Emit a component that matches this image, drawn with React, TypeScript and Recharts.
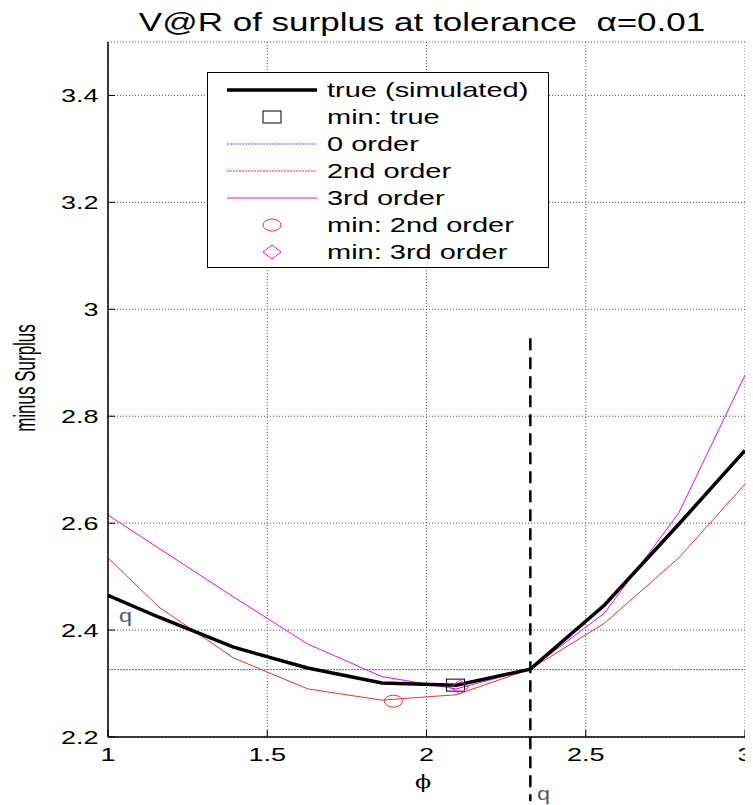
import React from "react";
import {
  ComposedChart, Line, Scatter, XAxis, YAxis, CartesianGrid, ReferenceLine, Legend,
} from "recharts";

// phi grid (q +/- k*0.233, plus the ends)
const PHI = [1, 1.16, 1.394, 1.627, 1.86, 2.093, 2.326, 2.559, 2.792, 3];
const TRUE_SIM = [2.465, 2.424, 2.368, 2.329, 2.301, 2.297, 2.327, 2.447, 2.598, 2.736];
const ORDER0 = [2.326, 2.326, 2.326, 2.326, 2.326, 2.326, 2.326, 2.326, 2.326, 2.326];
const ORDER2 = [2.535, 2.443, 2.348, 2.29, 2.269, 2.279, 2.327, 2.413, 2.535, 2.673];
const ORDER3 = [2.615, 2.553, 2.462, 2.374, 2.313, 2.29, 2.327, 2.432, 2.619, 2.877];

const MIN_TRUE = [{ phi: 2.091, v: 2.297 }];
const MIN_ORDER2 = [{ phi: 1.896, v: 2.267 }];
const MIN_ORDER3 = [{ phi: 2.104, v: 2.293 }];

const Q = 2.326;
const Q_SEGMENT_Y = [2.946, 2.08];

const X_TICKS = [1, 1.5, 2, 2.5, 3];
const Y_TICKS = [2.2, 2.4, 2.6, 2.8, 3, 3.2, 3.4];

const TITLE = "V@R of surplus at tolerance  \u03b1=0.01";
const LEGEND_LABELS = [
  "true (simulated)", "min: true", "0 order", "2nd order", "3rd order", "min: 2nd order", "min: 3rd order",
];

const FONT = "'Liberation Sans', Arial, sans-serif";
const RED = "#ff2a2a";
const MAGENTA = "#ff00ff";
const BLUE = "#5a5aff";
const QCOLOR = "#4a5a7a";

const data = PHI.map((phi, i) => ({
  phi, trueSim: TRUE_SIM[i], o0: ORDER0[i], o2: ORDER2[i], o3: ORDER3[i],
}));

// text is wider than normal in the source figure
function Wide({ x, y, size, sx, anchor, children, fill = "#000", family = FONT }: any) {
  return (
    <text
      transform={`translate(${x},${y}) scale(${sx},1)`}
      textAnchor={anchor}
      fontSize={size}
      fontFamily={family}
      fill={fill}
      style={{ whiteSpace: "pre" }}
    >
      {children}
    </text>
  );
}

const XTick = (p: any) => <Wide x={p.x} y={p.y} size={18} sx={1.5} anchor="middle">{p.payload.value}</Wide>;
const YTick = (p: any) => <Wide x={p.x} y={p.y + 6.5} size={18} sx={1.5} anchor="end">{p.payload.value}</Wide>;
const NoTick = () => <g />;

const squareShape = (p: any) => (
  <rect x={p.cx - 9} y={p.cy - 6} width={18} height={12} fill="none" stroke="#000" strokeWidth={1} />
);
const ellipseShape = (p: any) => (
  <ellipse cx={p.cx} cy={p.cy} rx={9} ry={6} fill="none" stroke={RED} strokeWidth={1} />
);
const diamondShape = (p: any) => (
  <polygon
    points={`${p.cx - 9},${p.cy} ${p.cx},${p.cy - 7} ${p.cx + 9},${p.cy} ${p.cx},${p.cy + 7}`}
    fill="none" stroke={MAGENTA} strokeWidth={1}
  />
);

function LegendBox() {
  const rowY = (i: number) => 18 + i * 27;
  const mx = 65;
  return (
    <svg width={342} height={196} style={{ display: "block" }}>
      <rect x={0.5} y={0.5} width={341} height={195} fill="#fff" stroke="#000" strokeWidth={1} />
      <line x1={20} x2={110} y1={rowY(0)} y2={rowY(0)} stroke="#000" strokeWidth={3.5} />
      <rect x={mx - 9} y={rowY(1) - 6} width={18} height={12} fill="none" stroke="#000" />
      <line x1={20} x2={110} y1={rowY(2)} y2={rowY(2)} stroke={BLUE} strokeWidth={1} strokeDasharray="2 1" />
      <line x1={20} x2={110} y1={rowY(3)} y2={rowY(3)} stroke={RED} strokeWidth={1} strokeDasharray="2 1" />
      <line x1={20} x2={110} y1={rowY(4)} y2={rowY(4)} stroke={MAGENTA} strokeWidth={1} />
      <ellipse cx={mx} cy={rowY(5)} rx={9} ry={6} fill="none" stroke={RED} />
      <polygon
        points={`${mx - 9},${rowY(6)} ${mx},${rowY(6) - 7} ${mx + 9},${rowY(6)} ${mx},${rowY(6) + 7}`}
        fill="none" stroke={MAGENTA}
      />
      {LEGEND_LABELS.map((l, i) => (
        <Wide key={l} x={120} y={rowY(i) + 7} size={20} sx={1.45} anchor="start">{l}</Wide>
      ))}
    </svg>
  );
}

export default function App() {
  return (
    <div style={{ position: "relative", width: 745, height: 797, background: "#fff" }}>
      <ComposedChart width={745} height={797} data={data} margin={{ top: 34, right: 8, bottom: 38, left: 0 }}>
        <CartesianGrid stroke="#555" strokeDasharray="1 2" />
        <XAxis
          dataKey="phi" type="number" domain={[1, 3]} ticks={X_TICKS} allowDataOverflow interval={0}
          height={30} axisLine={{ stroke: "#000", strokeWidth: 1.5 }} tickLine={{ stroke: "#000" }}
          tickSize={-7} tickMargin={31} tick={<XTick />}
        />
        <XAxis
          xAxisId="top" orientation="top" dataKey="phi" type="number" domain={[1, 3]} ticks={X_TICKS}
          allowDataOverflow interval={0} height={0} axisLine={{ stroke: "#000", strokeWidth: 1.5 }}
          tickLine={{ stroke: "#000" }} tickSize={-7} tick={<NoTick />}
        />
        <YAxis
          type="number" domain={[2.2, 3.5]} ticks={Y_TICKS} allowDataOverflow interval={0} width={100}
          axisLine={{ stroke: "#000", strokeWidth: 1.5 }} tickLine={{ stroke: "#000" }}
          tickSize={-7} tickMargin={16.5} tick={<YTick />}
        />
        <YAxis
          yAxisId="right" orientation="right" type="number" domain={[2.2, 3.5]} ticks={Y_TICKS}
          allowDataOverflow interval={0} width={0} axisLine={{ stroke: "#000", strokeWidth: 1.5 }}
          tickLine={{ stroke: "#000" }} tickSize={-7} tick={<NoTick />}
        />
        <Line dataKey="o0" type="linear" stroke={BLUE} strokeWidth={1} strokeDasharray="2 1" dot={false} isAnimationActive={false} />
        <Line dataKey="o2" type="linear" stroke={RED} strokeWidth={1} dot={false} isAnimationActive={false} />
        <Line dataKey="o3" type="linear" stroke={MAGENTA} strokeWidth={1} dot={false} isAnimationActive={false} />
        <Line dataKey="trueSim" type="linear" stroke="#000" strokeWidth={3.5} dot={false} isAnimationActive={false} />
        <Scatter data={MIN_TRUE} dataKey="v" shape={squareShape} isAnimationActive={false} />
        <Scatter data={MIN_ORDER2} dataKey="v" shape={ellipseShape} isAnimationActive={false} />
        <Scatter data={MIN_ORDER3} dataKey="v" shape={diamondShape} isAnimationActive={false} />
        <ReferenceLine
          segment={[{ x: Q, y: Q_SEGMENT_Y[0] }, { x: Q, y: Q_SEGMENT_Y[1] }]}
          ifOverflow="visible" stroke="#000" strokeWidth={2.5} strokeDasharray="12 7"
        />
        <Legend
          layout="vertical" verticalAlign="middle" align="center"
          wrapperStyle={{ position: "absolute", left: 199, top: 64, width: 342, height: 196 }}
          content={() => <LegendBox />}
        />
      </ComposedChart>
      <svg width={745} height={797} style={{ position: "absolute", left: 0, top: 0, pointerEvents: "none" }}>
        <Wide x={414} y={23} size={25} sx={1.4} anchor="middle">{TITLE}</Wide>
        <text
          transform="translate(27,370) rotate(-90) scale(1,1.7)" textAnchor="middle" fontSize={17}
          fontFamily={FONT} fill="#000"
        >
          minus Surplus
        </text>
        <Wide x={415} y={780} size={19} sx={1.25} anchor="middle" family="'DejaVu Serif', serif">
          {"\u03d5"}
        </Wide>
        <Wide x={529} y={792} size={18} sx={1.3} anchor="start" fill={QCOLOR}>q</Wide>
        <Wide x={111} y={614} size={18} sx={1.3} anchor="start" fill={QCOLOR}>q</Wide>
      </svg>
    </div>
  );
}
